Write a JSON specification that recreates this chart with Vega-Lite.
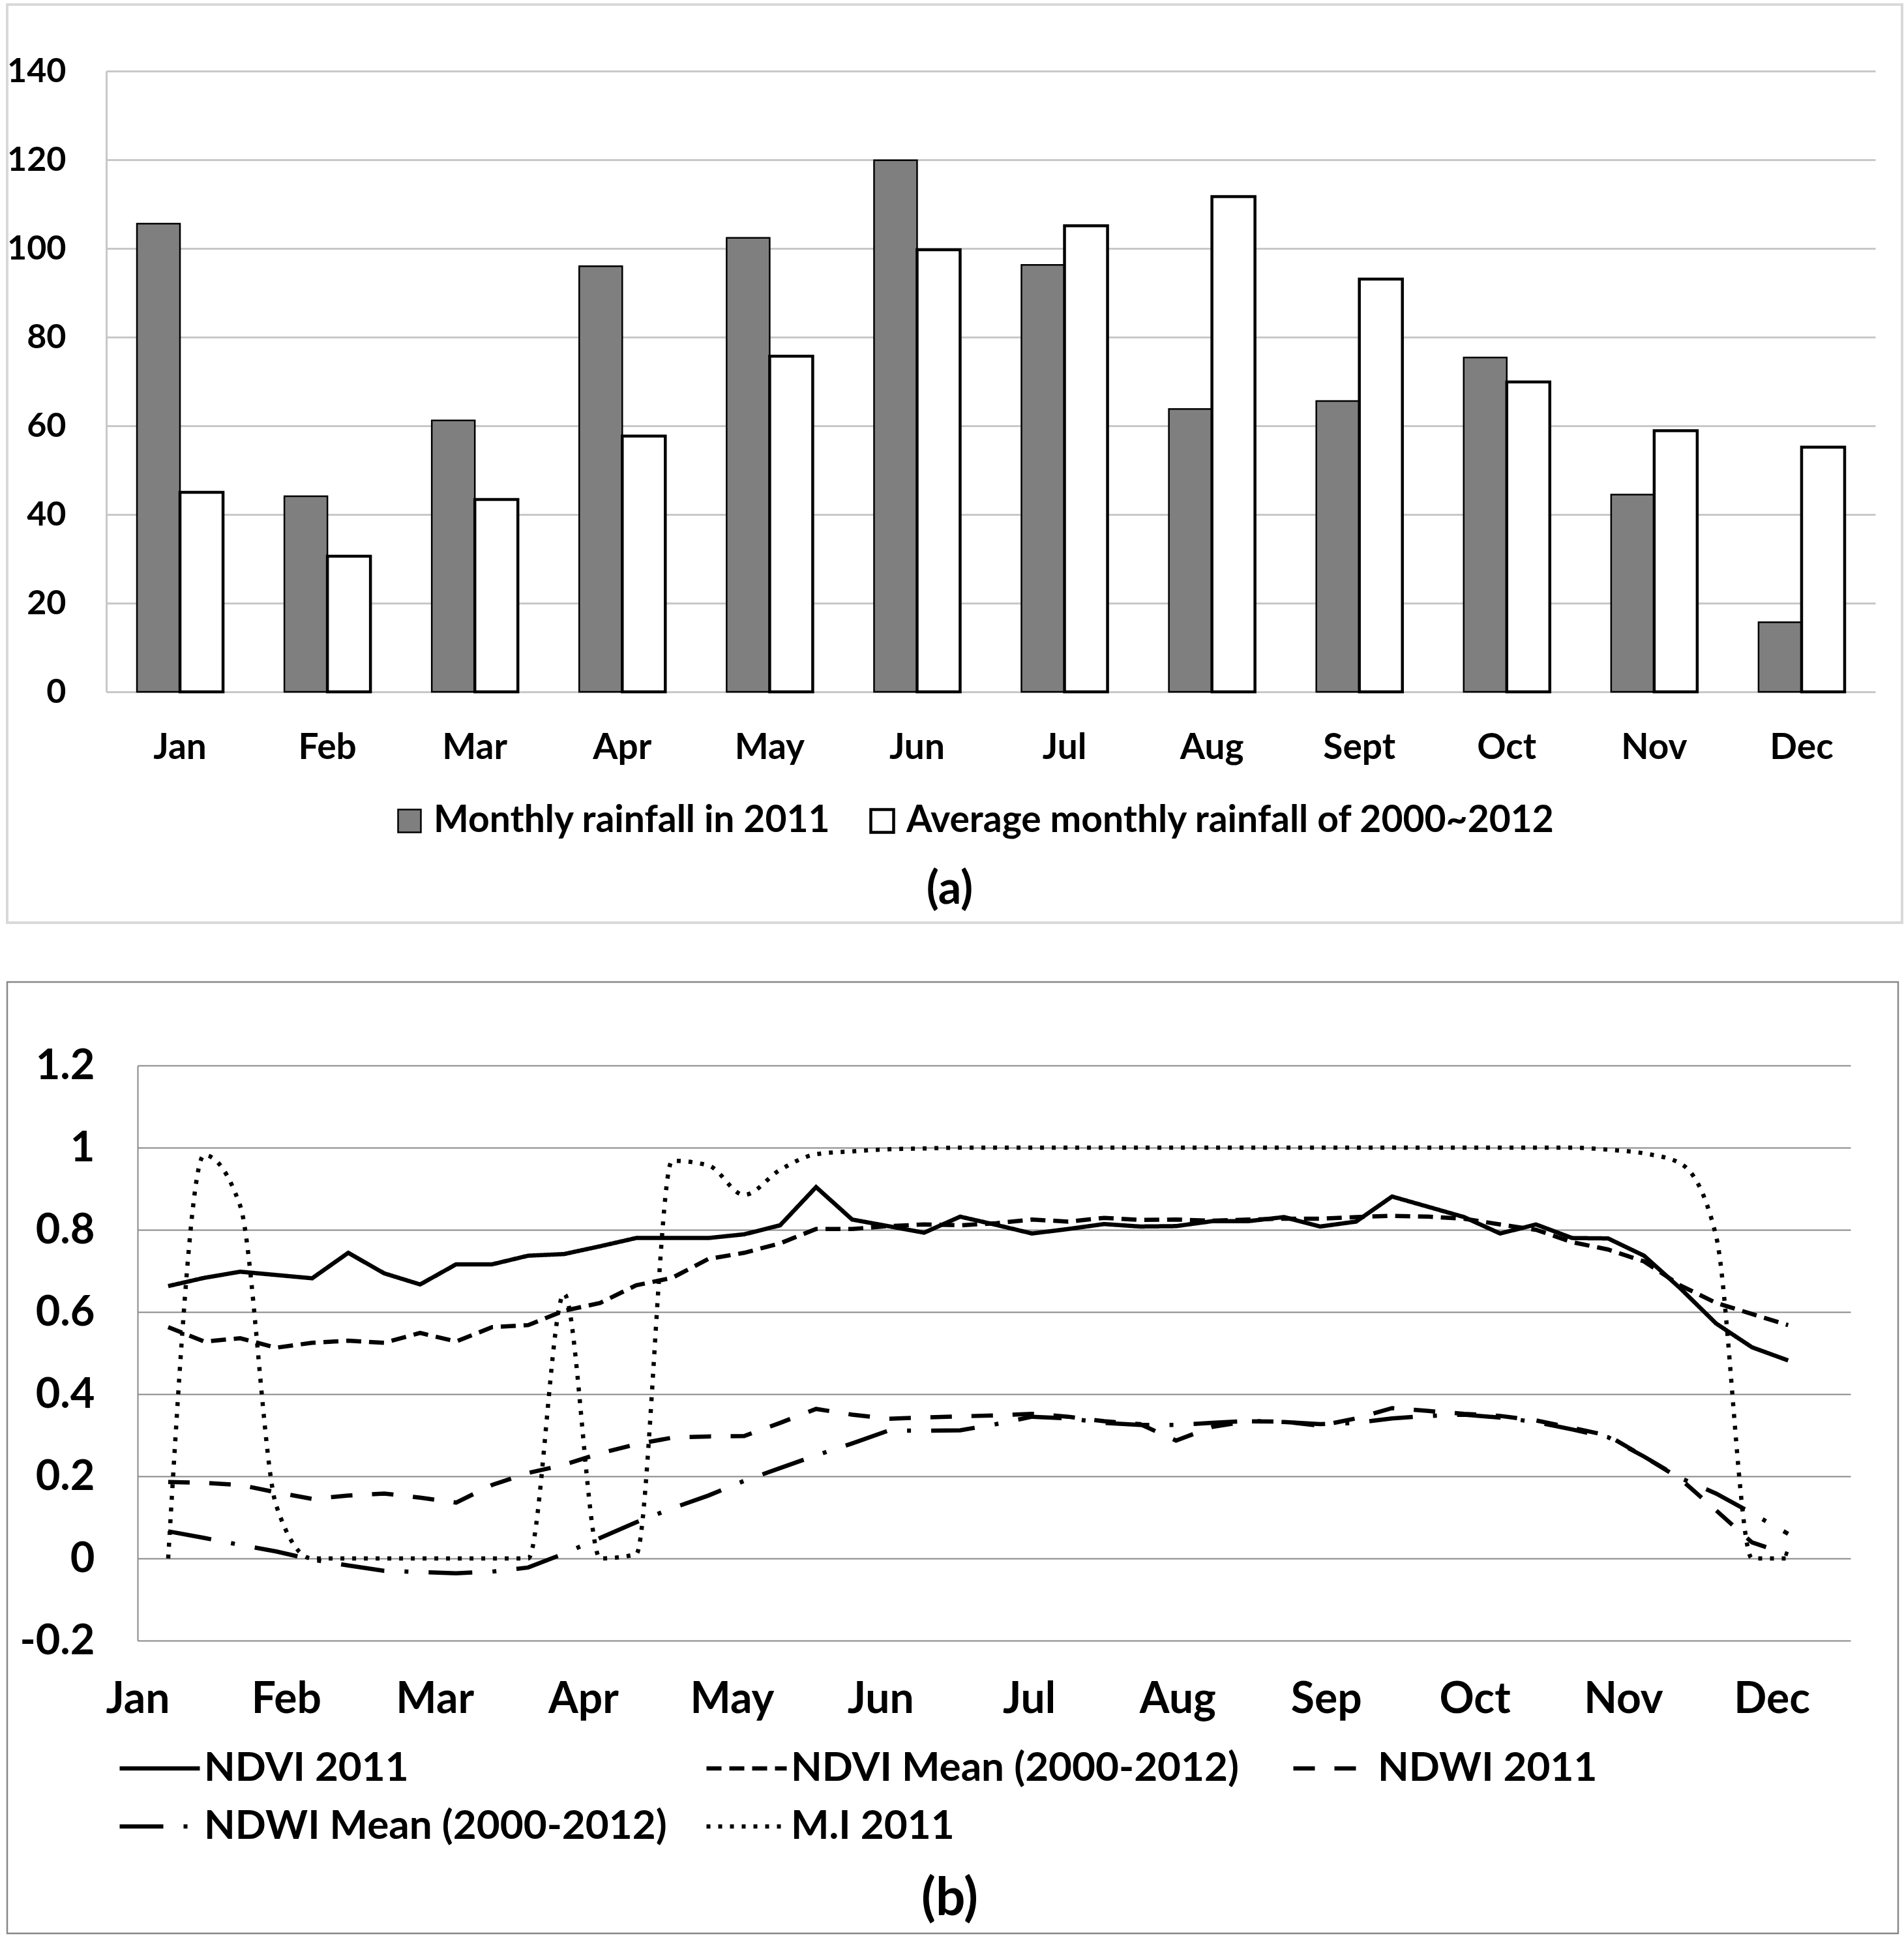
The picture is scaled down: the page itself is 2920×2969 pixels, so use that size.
{
  "$schema": "https://vega.github.io/schema/vega-lite/v6.json",
  "padding": {"left": 8, "top": 5, "right": 0, "bottom": 0},
  "background": "white",
  "spacing": 91,
  "bounds": "flush",
  "config": {
    "font": "Lato",
    "axis": {"labelFont": "Lato", "labelFontWeight": "bold", "labelColor": "black", "titleFont": "Lato", "titleFontWeight": "bold", "titleColor": "black"},
    "legend": {"labelFont": "Lato", "labelFontWeight": "bold", "labelColor": "black", "labelLimit": 3000}
  },
  "vconcat": [
    {
      "width": 2906,
      "height": 1408,
      "view": {"stroke": "#d9d9d9", "strokeWidth": 4},
      "data": {"values": [
        {"month": "Jan", "series": "Monthly rainfall in 2011", "value": 105.6},
        {"month": "Feb", "series": "Monthly rainfall in 2011", "value": 44.1},
        {"month": "Mar", "series": "Monthly rainfall in 2011", "value": 61.2},
        {"month": "Apr", "series": "Monthly rainfall in 2011", "value": 96.0},
        {"month": "May", "series": "Monthly rainfall in 2011", "value": 102.4},
        {"month": "Jun", "series": "Monthly rainfall in 2011", "value": 119.9},
        {"month": "Jul", "series": "Monthly rainfall in 2011", "value": 96.3},
        {"month": "Aug", "series": "Monthly rainfall in 2011", "value": 63.8},
        {"month": "Sept", "series": "Monthly rainfall in 2011", "value": 65.6},
        {"month": "Oct", "series": "Monthly rainfall in 2011", "value": 75.4},
        {"month": "Nov", "series": "Monthly rainfall in 2011", "value": 44.5},
        {"month": "Dec", "series": "Monthly rainfall in 2011", "value": 15.7},
        {"month": "Jan", "series": "Average monthly rainfall of 2000~2012", "value": 45.0},
        {"month": "Feb", "series": "Average monthly rainfall of 2000~2012", "value": 30.6},
        {"month": "Mar", "series": "Average monthly rainfall of 2000~2012", "value": 43.4},
        {"month": "Apr", "series": "Average monthly rainfall of 2000~2012", "value": 57.7},
        {"month": "May", "series": "Average monthly rainfall of 2000~2012", "value": 75.7},
        {"month": "Jun", "series": "Average monthly rainfall of 2000~2012", "value": 99.7},
        {"month": "Jul", "series": "Average monthly rainfall of 2000~2012", "value": 105.1},
        {"month": "Aug", "series": "Average monthly rainfall of 2000~2012", "value": 111.7},
        {"month": "Sept", "series": "Average monthly rainfall of 2000~2012", "value": 93.1},
        {"month": "Oct", "series": "Average monthly rainfall of 2000~2012", "value": 69.9},
        {"month": "Nov", "series": "Average monthly rainfall of 2000~2012", "value": 58.9},
        {"month": "Dec", "series": "Average monthly rainfall of 2000~2012", "value": 55.2}
      ]},
      "mark": {"type": "bar", "stroke": "black"},
      "encoding": {
        "x": {
          "field": "month", "type": "nominal",
          "sort": ["Jan", "Feb", "Mar", "Apr", "May", "Jun", "Jul", "Aug", "Sept", "Oct", "Nov", "Dec"],
          "scale": {"range": [152, 2865], "paddingInner": 0.416, "paddingOuter": 0.208},
          "axis": {
            "title": "(a)", "titleX": 1445, "titleY": 303, "titleBaseline": "middle", "titleAlign": "center", "titleAngle": 0, "titleFontSize": 70,
            "labelAngle": 0, "labelFontSize": 55, "labelPadding": 102, "labelBaseline": "alphabetic",
            "ticks": false, "domain": false, "grid": false, "offset": -354
          }
        },
        "xOffset": {
          "field": "series", "type": "nominal",
          "sort": ["Monthly rainfall in 2011", "Average monthly rainfall of 2000~2012"],
          "scale": {"paddingInner": 0, "paddingOuter": 0}
        },
        "y": {
          "field": "value", "type": "quantitative",
          "scale": {"domain": [0, 140], "range": [1054, 102], "nice": false},
          "axis": {
            "title": null, "values": [0, 20, 40, 60, 80, 100, 120, 140], "offset": -152, "ticks": false,
            "labelPadding": 62, "labelFontSize": 52, "grid": true, "gridColor": "#c8c8c8", "gridWidth": 3,
            "domainColor": "#c8c8c8", "domainWidth": 3
          }
        },
        "fill": {
          "field": "series", "type": "nominal",
          "scale": {"domain": ["Monthly rainfall in 2011", "Average monthly rainfall of 2000~2012"], "range": ["#7f7f7f", "#ffffff"]},
          "legend": {
            "title": null, "orient": "none", "legendX": 588.5, "legendY": 1224, "direction": "horizontal",
            "symbolType": "square", "symbolSize": 1225, "symbolStrokeColor": "black", "symbolStrokeWidth": 3,
            "labelFontSize": 57, "labelOffset": 8.5, "columnPadding": 50, "clipHeight": 56, "padding": 0
          }
        },
        "strokeWidth": {
          "field": "series", "type": "nominal",
          "scale": {"domain": ["Monthly rainfall in 2011", "Average monthly rainfall of 2000~2012"], "range": [2.5, 4.5]},
          "legend": null
        }
      }
    },
    {
      "width": 2900,
      "height": 1459,
      "view": {"stroke": "#888888", "strokeWidth": 2.5},
      "data": {"values": [
        {"s":"NDVI 2011","m":0.206,"v":0.663},{"s":"NDVI 2011","m":0.448,"v":0.683},{"s":"NDVI 2011","m":0.691,"v":0.698},{"s":"NDVI 2011","m":0.933,"v":0.690},{"s":"NDVI 2011","m":1.175,"v":0.682},{"s":"NDVI 2011","m":1.418,"v":0.744},{"s":"NDVI 2011","m":1.660,"v":0.694},{"s":"NDVI 2011","m":1.902,"v":0.667},{"s":"NDVI 2011","m":2.144,"v":0.716},{"s":"NDVI 2011","m":2.387,"v":0.716},{"s":"NDVI 2011","m":2.629,"v":0.737},{"s":"NDVI 2011","m":2.871,"v":0.741},{"s":"NDVI 2011","m":3.114,"v":0.760},{"s":"NDVI 2011","m":3.356,"v":0.780},{"s":"NDVI 2011","m":3.598,"v":0.780},{"s":"NDVI 2011","m":3.841,"v":0.780},{"s":"NDVI 2011","m":4.083,"v":0.789},{"s":"NDVI 2011","m":4.325,"v":0.811},{"s":"NDVI 2011","m":4.567,"v":0.904},{"s":"NDVI 2011","m":4.810,"v":0.825},{"s":"NDVI 2011","m":5.052,"v":0.809},{"s":"NDVI 2011","m":5.294,"v":0.793},{"s":"NDVI 2011","m":5.537,"v":0.832},{"s":"NDVI 2011","m":5.779,"v":0.812},{"s":"NDVI 2011","m":6.021,"v":0.791},{"s":"NDVI 2011","m":6.264,"v":0.802},{"s":"NDVI 2011","m":6.506,"v":0.814},{"s":"NDVI 2011","m":6.748,"v":0.808},{"s":"NDVI 2011","m":6.990,"v":0.809},{"s":"NDVI 2011","m":7.233,"v":0.821},{"s":"NDVI 2011","m":7.475,"v":0.821},{"s":"NDVI 2011","m":7.717,"v":0.831},{"s":"NDVI 2011","m":7.960,"v":0.808},{"s":"NDVI 2011","m":8.202,"v":0.820},{"s":"NDVI 2011","m":8.444,"v":0.881},{"s":"NDVI 2011","m":8.687,"v":0.856},{"s":"NDVI 2011","m":8.929,"v":0.831},{"s":"NDVI 2011","m":9.171,"v":0.791},{"s":"NDVI 2011","m":9.413,"v":0.813},{"s":"NDVI 2011","m":9.656,"v":0.780},{"s":"NDVI 2011","m":9.898,"v":0.779},{"s":"NDVI 2011","m":10.140,"v":0.737},{"s":"NDVI 2011","m":10.383,"v":0.658},{"s":"NDVI 2011","m":10.625,"v":0.572},{"s":"NDVI 2011","m":10.867,"v":0.514},{"s":"NDVI 2011","m":11.110,"v":0.482},
        {"s":"NDVI Mean (2000-2012)","m":0.206,"v":0.563},{"s":"NDVI Mean (2000-2012)","m":0.448,"v":0.528},{"s":"NDVI Mean (2000-2012)","m":0.691,"v":0.536},{"s":"NDVI Mean (2000-2012)","m":0.933,"v":0.513},{"s":"NDVI Mean (2000-2012)","m":1.175,"v":0.525},{"s":"NDVI Mean (2000-2012)","m":1.418,"v":0.530},{"s":"NDVI Mean (2000-2012)","m":1.660,"v":0.525},{"s":"NDVI Mean (2000-2012)","m":1.902,"v":0.549},{"s":"NDVI Mean (2000-2012)","m":2.144,"v":0.528},{"s":"NDVI Mean (2000-2012)","m":2.387,"v":0.563},{"s":"NDVI Mean (2000-2012)","m":2.629,"v":0.568},{"s":"NDVI Mean (2000-2012)","m":2.871,"v":0.603},{"s":"NDVI Mean (2000-2012)","m":3.114,"v":0.622},{"s":"NDVI Mean (2000-2012)","m":3.356,"v":0.665},{"s":"NDVI Mean (2000-2012)","m":3.598,"v":0.683},{"s":"NDVI Mean (2000-2012)","m":3.841,"v":0.729},{"s":"NDVI Mean (2000-2012)","m":4.083,"v":0.744},{"s":"NDVI Mean (2000-2012)","m":4.325,"v":0.767},{"s":"NDVI Mean (2000-2012)","m":4.567,"v":0.802},{"s":"NDVI Mean (2000-2012)","m":4.810,"v":0.802},{"s":"NDVI Mean (2000-2012)","m":5.052,"v":0.809},{"s":"NDVI Mean (2000-2012)","m":5.294,"v":0.813},{"s":"NDVI Mean (2000-2012)","m":5.537,"v":0.811},{"s":"NDVI Mean (2000-2012)","m":5.779,"v":0.816},{"s":"NDVI Mean (2000-2012)","m":6.021,"v":0.825},{"s":"NDVI Mean (2000-2012)","m":6.264,"v":0.820},{"s":"NDVI Mean (2000-2012)","m":6.506,"v":0.829},{"s":"NDVI Mean (2000-2012)","m":6.748,"v":0.824},{"s":"NDVI Mean (2000-2012)","m":6.990,"v":0.825},{"s":"NDVI Mean (2000-2012)","m":7.233,"v":0.822},{"s":"NDVI Mean (2000-2012)","m":7.475,"v":0.825},{"s":"NDVI Mean (2000-2012)","m":7.717,"v":0.827},{"s":"NDVI Mean (2000-2012)","m":7.960,"v":0.827},{"s":"NDVI Mean (2000-2012)","m":8.202,"v":0.831},{"s":"NDVI Mean (2000-2012)","m":8.444,"v":0.834},{"s":"NDVI Mean (2000-2012)","m":8.687,"v":0.832},{"s":"NDVI Mean (2000-2012)","m":8.929,"v":0.827},{"s":"NDVI Mean (2000-2012)","m":9.171,"v":0.813},{"s":"NDVI Mean (2000-2012)","m":9.413,"v":0.800},{"s":"NDVI Mean (2000-2012)","m":9.656,"v":0.770},{"s":"NDVI Mean (2000-2012)","m":9.898,"v":0.752},{"s":"NDVI Mean (2000-2012)","m":10.140,"v":0.723},{"s":"NDVI Mean (2000-2012)","m":10.383,"v":0.665},{"s":"NDVI Mean (2000-2012)","m":10.625,"v":0.622},{"s":"NDVI Mean (2000-2012)","m":10.867,"v":0.595},{"s":"NDVI Mean (2000-2012)","m":11.110,"v":0.568},
        {"s":"NDWI 2011","m":0.206,"v":0.186},{"s":"NDWI 2011","m":0.448,"v":0.184},{"s":"NDWI 2011","m":0.691,"v":0.179},{"s":"NDWI 2011","m":0.933,"v":0.161},{"s":"NDWI 2011","m":1.175,"v":0.145},{"s":"NDWI 2011","m":1.418,"v":0.153},{"s":"NDWI 2011","m":1.660,"v":0.158},{"s":"NDWI 2011","m":1.902,"v":0.148},{"s":"NDWI 2011","m":2.144,"v":0.136},{"s":"NDWI 2011","m":2.387,"v":0.179},{"s":"NDWI 2011","m":2.629,"v":0.208},{"s":"NDWI 2011","m":2.871,"v":0.228},{"s":"NDWI 2011","m":3.114,"v":0.256},{"s":"NDWI 2011","m":3.356,"v":0.278},{"s":"NDWI 2011","m":3.598,"v":0.294},{"s":"NDWI 2011","m":3.841,"v":0.297},{"s":"NDWI 2011","m":4.083,"v":0.298},{"s":"NDWI 2011","m":4.325,"v":0.330},{"s":"NDWI 2011","m":4.567,"v":0.364},{"s":"NDWI 2011","m":4.810,"v":0.350},{"s":"NDWI 2011","m":5.052,"v":0.340},{"s":"NDWI 2011","m":5.294,"v":0.343},{"s":"NDWI 2011","m":5.537,"v":0.346},{"s":"NDWI 2011","m":5.779,"v":0.348},{"s":"NDWI 2011","m":6.021,"v":0.352},{"s":"NDWI 2011","m":6.264,"v":0.345},{"s":"NDWI 2011","m":6.506,"v":0.334},{"s":"NDWI 2011","m":6.748,"v":0.327},{"s":"NDWI 2011","m":6.990,"v":0.287},{"s":"NDWI 2011","m":7.233,"v":0.320},{"s":"NDWI 2011","m":7.475,"v":0.334},{"s":"NDWI 2011","m":7.717,"v":0.333},{"s":"NDWI 2011","m":7.960,"v":0.323},{"s":"NDWI 2011","m":8.202,"v":0.341},{"s":"NDWI 2011","m":8.444,"v":0.366},{"s":"NDWI 2011","m":8.687,"v":0.359},{"s":"NDWI 2011","m":8.929,"v":0.352},{"s":"NDWI 2011","m":9.171,"v":0.347},{"s":"NDWI 2011","m":9.413,"v":0.336},{"s":"NDWI 2011","m":9.656,"v":0.318},{"s":"NDWI 2011","m":9.898,"v":0.299},{"s":"NDWI 2011","m":10.140,"v":0.248},{"s":"NDWI 2011","m":10.383,"v":0.194},{"s":"NDWI 2011","m":10.625,"v":0.117},{"s":"NDWI 2011","m":10.867,"v":0.039},{"s":"NDWI 2011","m":11.110,"v":0.010},
        {"s":"NDWI Mean (2000-2012)","m":0.206,"v":0.066},{"s":"NDWI Mean (2000-2012)","m":0.448,"v":0.050},{"s":"NDWI Mean (2000-2012)","m":0.691,"v":0.033},{"s":"NDWI Mean (2000-2012)","m":0.933,"v":0.017},{"s":"NDWI Mean (2000-2012)","m":1.175,"v":-0.003},{"s":"NDWI Mean (2000-2012)","m":1.418,"v":-0.017},{"s":"NDWI Mean (2000-2012)","m":1.660,"v":-0.030},{"s":"NDWI Mean (2000-2012)","m":1.902,"v":-0.033},{"s":"NDWI Mean (2000-2012)","m":2.144,"v":-0.036},{"s":"NDWI Mean (2000-2012)","m":2.387,"v":-0.032},{"s":"NDWI Mean (2000-2012)","m":2.629,"v":-0.022},{"s":"NDWI Mean (2000-2012)","m":2.871,"v":0.012},{"s":"NDWI Mean (2000-2012)","m":3.114,"v":0.050},{"s":"NDWI Mean (2000-2012)","m":3.356,"v":0.088},{"s":"NDWI Mean (2000-2012)","m":3.598,"v":0.122},{"s":"NDWI Mean (2000-2012)","m":3.841,"v":0.153},{"s":"NDWI Mean (2000-2012)","m":4.083,"v":0.189},{"s":"NDWI Mean (2000-2012)","m":4.325,"v":0.220},{"s":"NDWI Mean (2000-2012)","m":4.567,"v":0.251},{"s":"NDWI Mean (2000-2012)","m":4.810,"v":0.280},{"s":"NDWI Mean (2000-2012)","m":5.052,"v":0.311},{"s":"NDWI Mean (2000-2012)","m":5.294,"v":0.311},{"s":"NDWI Mean (2000-2012)","m":5.537,"v":0.312},{"s":"NDWI Mean (2000-2012)","m":5.779,"v":0.327},{"s":"NDWI Mean (2000-2012)","m":6.021,"v":0.345},{"s":"NDWI Mean (2000-2012)","m":6.264,"v":0.341},{"s":"NDWI Mean (2000-2012)","m":6.506,"v":0.330},{"s":"NDWI Mean (2000-2012)","m":6.748,"v":0.325},{"s":"NDWI Mean (2000-2012)","m":6.990,"v":0.325},{"s":"NDWI Mean (2000-2012)","m":7.233,"v":0.330},{"s":"NDWI Mean (2000-2012)","m":7.475,"v":0.335},{"s":"NDWI Mean (2000-2012)","m":7.717,"v":0.332},{"s":"NDWI Mean (2000-2012)","m":7.960,"v":0.327},{"s":"NDWI Mean (2000-2012)","m":8.202,"v":0.330},{"s":"NDWI Mean (2000-2012)","m":8.444,"v":0.341},{"s":"NDWI Mean (2000-2012)","m":8.687,"v":0.347},{"s":"NDWI Mean (2000-2012)","m":8.929,"v":0.350},{"s":"NDWI Mean (2000-2012)","m":9.171,"v":0.343},{"s":"NDWI Mean (2000-2012)","m":9.413,"v":0.332},{"s":"NDWI Mean (2000-2012)","m":9.656,"v":0.314},{"s":"NDWI Mean (2000-2012)","m":9.898,"v":0.295},{"s":"NDWI Mean (2000-2012)","m":10.140,"v":0.248},{"s":"NDWI Mean (2000-2012)","m":10.383,"v":0.196},{"s":"NDWI Mean (2000-2012)","m":10.625,"v":0.158},{"s":"NDWI Mean (2000-2012)","m":10.867,"v":0.110},{"s":"NDWI Mean (2000-2012)","m":11.110,"v":0.060},
        {"s":"M.I 2011","m":0.206,"v":0},{"s":"M.I 2011","m":0.448,"v":0.982},{"s":"M.I 2011","m":0.691,"v":0.858},{"s":"M.I 2011","m":0.933,"v":0.129},{"s":"M.I 2011","m":1.175,"v":0},{"s":"M.I 2011","m":1.418,"v":0},{"s":"M.I 2011","m":1.660,"v":0},{"s":"M.I 2011","m":1.902,"v":0},{"s":"M.I 2011","m":2.144,"v":0},{"s":"M.I 2011","m":2.387,"v":0},{"s":"M.I 2011","m":2.629,"v":0},{"s":"M.I 2011","m":2.871,"v":0.644},{"s":"M.I 2011","m":3.114,"v":0},{"s":"M.I 2011","m":3.356,"v":0.01},{"s":"M.I 2011","m":3.598,"v":0.968},{"s":"M.I 2011","m":3.841,"v":0.957},{"s":"M.I 2011","m":4.083,"v":0.885},{"s":"M.I 2011","m":4.325,"v":0.946},{"s":"M.I 2011","m":4.567,"v":0.984},{"s":"M.I 2011","m":4.810,"v":0.991},{"s":"M.I 2011","m":5.052,"v":0.996},{"s":"M.I 2011","m":5.294,"v":0.998},{"s":"M.I 2011","m":5.537,"v":1},{"s":"M.I 2011","m":5.779,"v":1},{"s":"M.I 2011","m":6.021,"v":1},{"s":"M.I 2011","m":6.264,"v":1},{"s":"M.I 2011","m":6.506,"v":1},{"s":"M.I 2011","m":6.748,"v":1},{"s":"M.I 2011","m":6.990,"v":1},{"s":"M.I 2011","m":7.233,"v":1},{"s":"M.I 2011","m":7.475,"v":1},{"s":"M.I 2011","m":7.717,"v":1},{"s":"M.I 2011","m":7.960,"v":1},{"s":"M.I 2011","m":8.202,"v":1},{"s":"M.I 2011","m":8.444,"v":1},{"s":"M.I 2011","m":8.687,"v":1},{"s":"M.I 2011","m":8.929,"v":1},{"s":"M.I 2011","m":9.171,"v":1},{"s":"M.I 2011","m":9.413,"v":1},{"s":"M.I 2011","m":9.656,"v":1},{"s":"M.I 2011","m":9.898,"v":0.995},{"s":"M.I 2011","m":10.140,"v":0.986},{"s":"M.I 2011","m":10.383,"v":0.962},{"s":"M.I 2011","m":10.625,"v":0.785},{"s":"M.I 2011","m":10.867,"v":0},{"s":"M.I 2011","m":11.110,"v":0}
      ]},
      "encoding": {
        "x": {
          "field": "m", "type": "quantitative",
          "scale": {"domain": [0, 11.53], "range": [200, 2827], "nice": false, "zero": false},
          "axis": {
            "values": [0, 1, 2, 3, 4, 5, 6, 7, 8, 9, 10, 11],
            "labelExpr": "['Jan','Feb','Mar','Apr','May','Jun','Jul','Aug','Sep','Oct','Nov','Dec'][datum.value]",
            "title": "(b)", "titleX": 1445, "titleY": 396, "titleBaseline": "middle", "titleAlign": "center", "titleAngle": 0, "titleFontSize": 80,
            "grid": false, "ticks": false, "domain": false, "offset": -449,
            "labelPadding": 110, "labelBaseline": "alphabetic", "labelFontSize": 66, "labelFlush": false, "labelOverlap": false
          }
        },
        "y": {
          "field": "v", "type": "quantitative",
          "scale": {"domain": [-0.2, 1.2], "range": [1010, 128], "nice": false, "zero": false},
          "axis": {
            "title": null, "values": [-0.2, 0, 0.2, 0.4, 0.6, 0.8, 1, 1.2], "labelExpr": "'' + datum.value",
            "offset": -200, "ticks": false, "labelPadding": 66, "labelFontSize": 65,
            "grid": true, "gridColor": "#888888", "gridWidth": 2, "domainColor": "#888888", "domainWidth": 2
          }
        },
        "strokeDash": {
          "field": "s", "type": "nominal",
          "scale": {
            "domain": ["NDVI 2011", "NDVI Mean (2000-2012)", "NDWI 2011", "NDWI Mean (2000-2012)", "M.I 2011"],
            "range": [[1, 0], [23, 12], [33, 30], [67, 31, 6, 31], [6, 12]]
          },
          "legend": {
            "title": null, "orient": "none", "legendX": 169, "legendY": 2674, "columns": 3, "direction": "horizontal", "gridAlign": "all",
            "symbolType": "stroke", "symbolSize": 15129, "symbolStrokeWidth": 6.5, "symbolStrokeColor": "black",
            "labelFontSize": 62, "labelOffset": 3, "columnPadding": 57, "rowPadding": 27, "clipHeight": 62, "padding": 0
          }
        }
      },
      "layer": [
        {
          "transform": [{"filter": "datum.s != 'M.I 2011'"}],
          "mark": {"type": "line", "color": "black", "strokeWidth": 6.5}
        },
        {
          "transform": [{"filter": "datum.s == 'M.I 2011'"}],
          "mark": {"type": "line", "color": "black", "strokeWidth": 6.5, "interpolate": "monotone"}
        }
      ]
    }
  ]
}
